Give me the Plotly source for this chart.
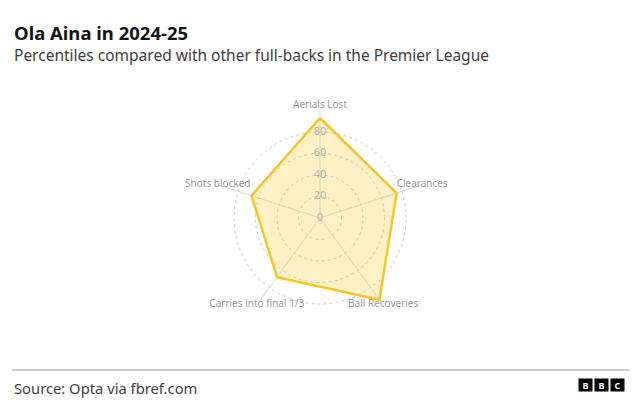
import plotly.graph_objects as go

categories = ["Aerials Lost", "Clearances", "Ball Recoveries", "Carries into final 1/3", "Shots blocked"]
values = [93, 75, 94, 68, 67]
radial_ticks = [0, 20, 40, 60, 80]
radial_labels = ["0", "20", "40", "60", "80"]

R_MAX = 100
label_pos = ["top center", "middle center", "middle center", "middle center", "middle center"]

fig = go.Figure()
fig.add_trace(go.Scatterpolar(
    r=values + [values[0]],
    theta=categories + [categories[0]],
    mode="lines",
    fill="toself",
    fillcolor="rgba(252,212,80,0.33)",
    line=dict(color="#F5C62A", width=2.5),
    hoverinfo="skip",
))
fig.add_trace(go.Scatterpolar(
    r=radial_ticks,
    theta=[categories[0]] * len(radial_ticks),
    mode="text",
    text=radial_labels,
    textfont=dict(family="Noto Sans", size=11, color="#b0b0b0"),
    hoverinfo="skip",
))
fig.add_trace(go.Scatterpolar(
    r=[R_MAX] * len(categories),
    theta=categories,
    mode="text",
    text=categories,
    textposition=label_pos,
    cliponaxis=False,
    textfont=dict(family="Noto Sans", size=10, color="#9a9a9a"),
    hoverinfo="skip",
))

W, H = 640, 414
def px(x, y):
    return x / W, 1 - y / H

fig.update_layout(
    width=W, height=H,
    margin=dict(l=0, r=0, t=0, b=0),
    paper_bgcolor="white",
    showlegend=False,
    polar=dict(
        domain=dict(x=[0.332, 0.668], y=[0.2138, 0.7331]),
        bgcolor="rgba(0,0,0,0)",
        radialaxis=dict(
            range=[0, R_MAX],
            tickvals=[20, 40, 60, 80],
            showticklabels=False,
            showline=False,
            ticks="",
            gridcolor="#c8c8c8",
            griddash="dot",
            gridwidth=1,
        ),
        angularaxis=dict(
            rotation=90,
            direction="clockwise",
            showline=False,
            showticklabels=False,
            ticks="",
            gridcolor="#d6d6d6",
            gridwidth=1,
        ),
    ),
)

anns = []
x, y = px(12, 32)
anns.append(dict(text="<b>Ola Aina in 2024-25</b>", x=x, y=y, xref="paper", yref="paper",
                 xanchor="left", yanchor="middle", showarrow=False,
                 font=dict(family="Noto Sans", size=18.5, color="#141414")))
x, y = px(12, 55)
anns.append(dict(text="Percentiles compared with other full-backs in the Premier League", x=x, y=y,
                 xref="paper", yref="paper", xanchor="left", yanchor="middle", showarrow=False,
                 font=dict(family="Noto Sans", size=15.5, color="#404040")))
x, y = px(12, 388)
anns.append(dict(text="Source: Opta via fbref.com", x=x, y=y, xref="paper", yref="paper",
                 xanchor="left", yanchor="middle", showarrow=False,
                 font=dict(family="Noto Sans", size=14.75, color="#404040")))
for i, letter in enumerate(["B", "B", "C"]):
    x, y = px(585.5 + i * 16, 385)
    anns.append(dict(text="<b>" + letter + "</b>", x=x, y=y, xref="paper", yref="paper",
                     xanchor="center", yanchor="middle", showarrow=False,
                     bgcolor="#000000", width=11, height=10, borderpad=1,
                     font=dict(family="Noto Sans", size=9, color="white")))
fig.layout.annotations = anns

x0, y0 = px(12, 370)
x1, _ = px(629, 370)
fig.add_shape(type="line", xref="paper", yref="paper", x0=x0, x1=x1, y0=y0, y1=y0,
              line=dict(color="#9a9a9a", width=1))

fig.write_html("out.html", config={"displayModeBar": False},
               post_script="document.body.style.margin='0';document.body.style.overflow='hidden';")
